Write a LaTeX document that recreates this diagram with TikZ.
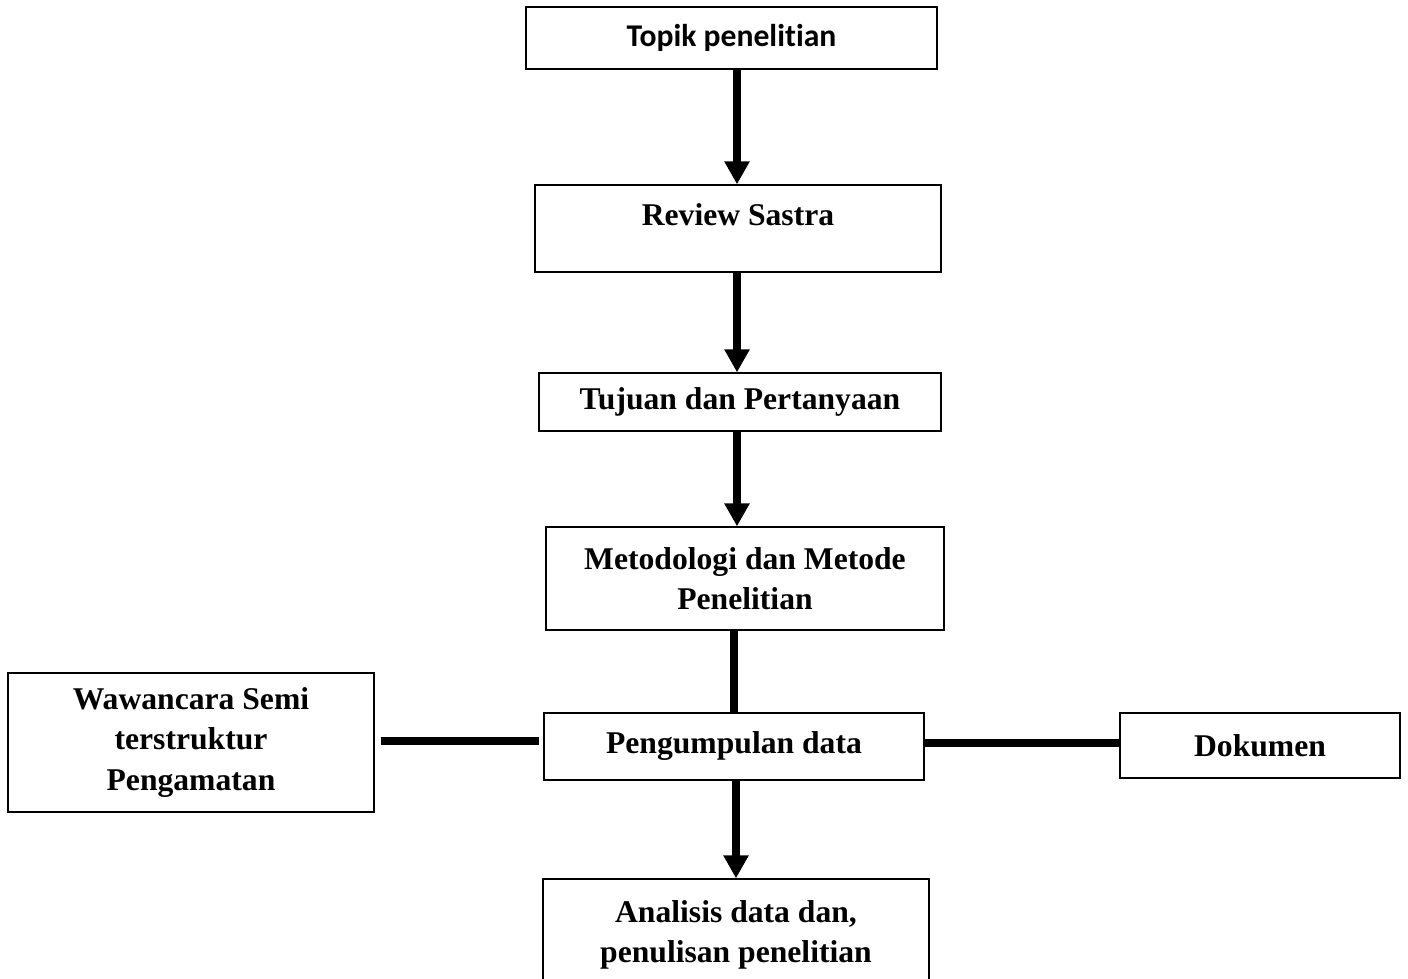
\documentclass[tikz,border=0pt]{standalone}
\usepackage{fontspec}
\setmainfont{Liberation Serif}
\newfontfamily\topikfont[Ligatures=NoCommon]{Carlito}
\usetikzlibrary{arrows.meta, positioning}

\begin{document}
\begin{tikzpicture}[
    box/.style={draw, line width=0.8pt, rectangle, inner sep=0pt, align=center,
        font=\fontsize{18}{22.8}\selectfont\bfseries},
    arr/.style={line width=4pt, -{Triangle[width=0.48cm, length=0.46cm]}},
    link/.style={line width=4pt}
]
\useasboundingbox (0,0) rectangle (28.16,-19.56);
\clip (0,0) rectangle (28.16,-19.56);

\coordinate (axis) at (14.74,0);

\node[box, minimum width=8.22cm, minimum height=1.24cm, font=\fontsize{18}{22.8}\topikfont\bfseries] (topik) at (14.63,-0.76) {Topik penelitian};
\node[box, minimum width=8.12cm, minimum height=1.74cm, text depth=0.54cm] (review) at (14.76,-4.57) {Review Sastra};
\node[box, minimum width=8.04cm, minimum height=1.16cm] (tujuan) at (14.8,-8.04) {Tujuan dan Pertanyaan};
\node[box, minimum width=7.96cm, minimum height=2.06cm] (metode) at (14.9,-11.57) {Metodologi dan Metode\\Penelitian};
\node[box, minimum width=7.6cm, minimum height=1.34cm] (pengumpulan) at (14.68,-14.93) {Pengumpulan data};
\node[box, minimum width=7.32cm, minimum height=2.78cm] (wawancara) at (3.82,-14.85) {Wawancara Semi\\terstruktur\\Pengamatan};
\node[box, minimum width=5.6cm, minimum height=1.3cm] (dokumen) at (25.2,-14.91) {Dokumen};
\node[box, minimum width=7.72cm, minimum height=2.22cm] (analisis) at (14.72,-18.69) {Analisis data dan,\\penulisan penelitian};

% alur utama
\draw[arr] (topik.south -| axis) -- (review.north -| axis);
\draw[arr] (review.south -| axis) -- (tujuan.north -| axis);
\draw[arr] (tujuan.south -| axis) -- (metode.north -| axis);
\draw[link] ([xshift=-0.06cm]metode.south -| axis) -- ([xshift=-0.06cm]pengumpulan.north -| axis);
\draw[arr] ([xshift=-0.02cm]pengumpulan.south -| axis) -- ([xshift=-0.02cm]analisis.north -| axis);

% cabang kiri dan kanan
\draw[link] ([xshift=0.12cm, yshift=0.03cm]wawancara.east) -- ([xshift=-0.08cm, yshift=0.03cm]wawancara.east -| pengumpulan.west);
\draw[link] ([yshift=0.07cm]pengumpulan.east) -- ([yshift=0.07cm]pengumpulan.east -| dokumen.west);

\end{tikzpicture}
\end{document}
